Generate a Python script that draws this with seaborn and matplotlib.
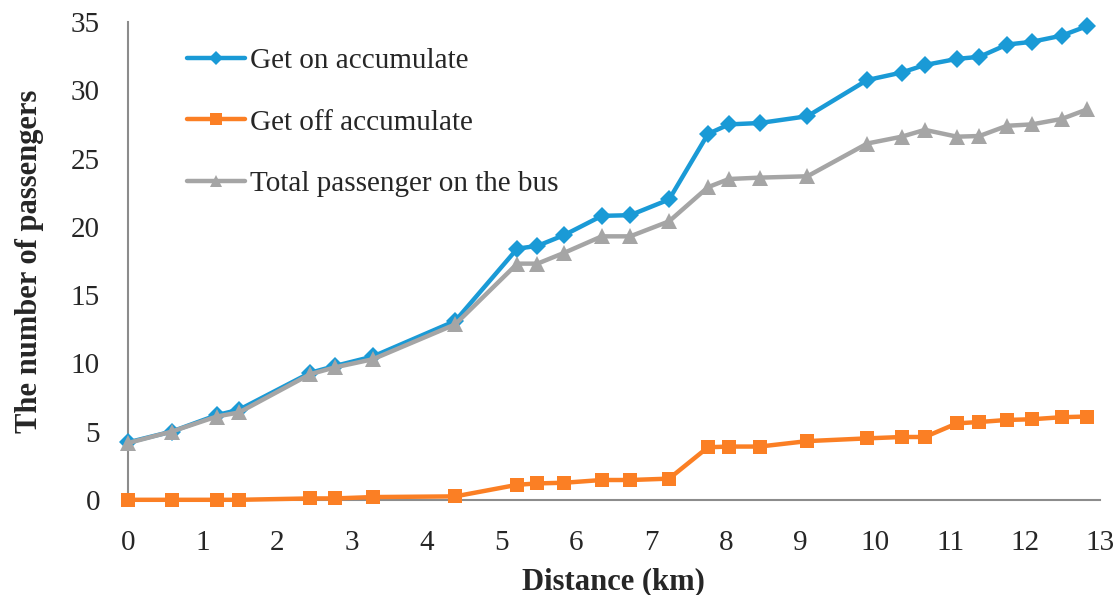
import pandas as pd
import seaborn as sns
import matplotlib.pyplot as plt

# distance of each stop (km)
distance = [0, 0.59, 1.19, 1.49, 2.44, 2.77, 3.28, 4.38, 5.21, 5.48, 5.84, 6.34, 6.72, 7.24,
            7.76, 8.04, 8.45, 9.09, 9.89, 10.35, 10.66, 11.09, 11.39, 11.76, 12.09, 12.49, 12.83]

get_on = [4.2, 5.0, 6.2, 6.6, 9.3, 9.8, 10.5, 13.1, 18.4, 18.6, 19.4, 20.8, 20.85, 22.0,
          26.8, 27.5, 27.6, 28.1, 30.75, 31.3, 31.85, 32.3, 32.45, 33.35, 33.55, 34.0, 34.7]

get_off = [0, 0, 0, 0, 0.1, 0.1, 0.2, 0.25, 1.1, 1.2, 1.25, 1.45, 1.45, 1.55,
           3.85, 3.9, 3.9, 4.3, 4.5, 4.6, 4.6, 5.6, 5.7, 5.85, 5.9, 6.05, 6.1]

on_bus = [4.15, 5.0, 6.1, 6.4, 9.2, 9.7, 10.3, 12.85, 17.3, 17.3, 18.1, 19.3, 19.3, 20.4,
          22.9, 23.5, 23.6, 23.7, 26.1, 26.6, 27.1, 26.6, 26.65, 27.4, 27.5, 27.9, 28.6]

df = pd.DataFrame({'distance': distance, 'on': get_on, 'off': get_off, 'bus': on_bus})

sns.set_style('white')
plt.rcParams['font.family'] = ['Liberation Serif', 'DejaVu Serif']

fig = plt.figure(figsize=(11.2, 5.95), dpi=100)
ax = fig.add_axes([0.114, 0.16, 0.868, 0.803])

series = [
    ('on', 'Get on accumulate', '#1A9AD6', 'D', 9),
    ('off', 'Get off accumulate', '#FB7F24', 's', 10),
    ('bus', 'Total passenger on the bus', '#A5A5A5', '^', 11),
]
for col, label, color, marker, ms in series:
    sns.lineplot(data=df, x='distance', y=col, ax=ax, color=color, linewidth=3.2,
                 marker=marker, markersize=ms, markeredgewidth=0, label=label,
                 clip_on=False, zorder=3)

ax.set_xlim(0, 13)
ax.set_ylim(0, 35)
ax.set_xticks(range(0, 14))
ax.set_yticks(range(0, 36, 5))
ax.tick_params(axis='y', length=0, labelsize=21, pad=20)
ax.tick_params(axis='x', length=0, labelsize=21, pad=22)

for side in ['top', 'right']:
    ax.spines[side].set_visible(False)
for side in ['left', 'bottom']:
    ax.spines[side].set_color('#8C8C8C')
    ax.spines[side].set_linewidth(1.5)

ax.set_xlabel('Distance (km)', fontsize=22, fontweight='bold', labelpad=8)
ax.set_ylabel('The number of passengers', fontsize=22, fontweight='bold', labelpad=19)

leg = ax.legend(loc='upper left', bbox_to_anchor=(0.061, 0.946), frameon=False,
                borderaxespad=0, borderpad=0, fontsize=21, handlelength=2.0,
                labelspacing=1.2, handletextpad=0.15, markerscale=0.8)

fig.savefig('out.png', dpi=100)
